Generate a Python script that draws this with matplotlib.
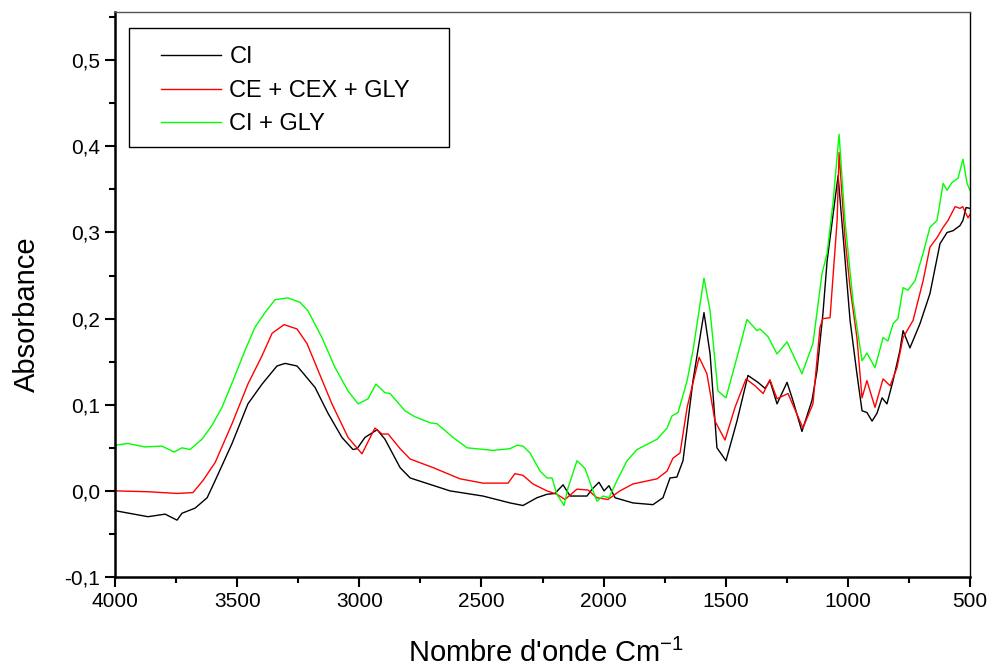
import matplotlib
matplotlib.use("Agg")
import matplotlib.pyplot as plt
from matplotlib.patches import Rectangle
from matplotlib.ticker import MultipleLocator, FuncFormatter

plt.rcParams['font.family'] = ['Liberation Sans', 'DejaVu Sans']

# wavenumber (cm-1) / absorbance
ci_wn = [4000, 3865, 3795, 3746, 3726, 3672, 3623, 3590, 3521, 3456, 3398, 3337, 3304,
         3255, 3222, 3181, 3128, 3071, 3026, 3009, 2977, 2927, 2895, 2833, 2792, 2629,
         2494, 2383, 2330, 2273, 2232, 2199, 2166, 2137, 2068, 2047, 2019, 1998, 1978,
         1953, 1880, 1798, 1757, 1728, 1700, 1675, 1658, 1634, 1589, 1564, 1536, 1499,
         1454, 1409, 1368, 1339, 1319, 1290, 1249, 1225, 1188, 1147, 1126, 1102, 1085,
         1040, 991, 963, 942, 922, 901, 881, 860, 840, 815, 787, 774, 746, 705, 664, 623,
         594, 570, 541, 529, 516, 500]
ci_abs = [-0.023, -0.030, -0.027, -0.034, -0.026, -0.020, -0.008, 0.012, 0.055, 0.101,
          0.124, 0.145, 0.148, 0.145, 0.134, 0.120, 0.090, 0.062, 0.048, 0.049, 0.062,
          0.071, 0.060, 0.027, 0.015, 0.000, -0.006, -0.014, -0.017, -0.008, -0.004,
          -0.003, 0.007, -0.006, -0.006, 0.002, 0.010, 0.000, 0.006, -0.008, -0.014,
          -0.016, -0.008, 0.015, 0.016, 0.035, 0.073, 0.128, 0.207, 0.159, 0.050, 0.035,
          0.081, 0.134, 0.126, 0.119, 0.128, 0.101, 0.126, 0.105, 0.069, 0.105, 0.140,
          0.206, 0.267, 0.366, 0.198, 0.136, 0.093, 0.091, 0.081, 0.090, 0.108, 0.101,
          0.128, 0.163, 0.186, 0.166, 0.194, 0.229, 0.287, 0.300, 0.302, 0.308, 0.314,
          0.329, 0.328]

ce_wn = [4000, 3865, 3746, 3681, 3640, 3590, 3521, 3456, 3398, 3357, 3308, 3255, 3214,
         3169, 3112, 3046, 2989, 2936, 2907, 2882, 2833, 2792, 2698, 2588, 2494, 2391,
         2363, 2330, 2289, 2232, 2191, 2158, 2109, 2064, 2027, 1982, 1933, 1880, 1781,
         1740, 1716, 1687, 1658, 1609, 1577, 1544, 1503, 1462, 1417, 1380, 1347, 1319,
         1290, 1245, 1184, 1143, 1114, 1102, 1073, 1044, 1036, 1012, 991, 963, 942, 922,
         889, 856, 827, 799, 774, 733, 692, 664, 635, 610, 590, 561, 541, 530, 508, 500]
ce_abs = [0.000, -0.001, -0.003, -0.002, 0.012, 0.033, 0.078, 0.124, 0.157, 0.183,
          0.193, 0.188, 0.171, 0.140, 0.101, 0.062, 0.043, 0.073, 0.066, 0.066, 0.049,
          0.037, 0.027, 0.014, 0.009, 0.009, 0.020, 0.018, 0.008, 0.000, -0.004, -0.010,
          0.002, 0.001, -0.008, -0.010, 0.000, 0.008, 0.014, 0.023, 0.038, 0.044, 0.097,
          0.155, 0.136, 0.081, 0.059, 0.097, 0.130, 0.122, 0.113, 0.129, 0.107, 0.113,
          0.073, 0.101, 0.190, 0.200, 0.201, 0.314, 0.393, 0.294, 0.236, 0.178, 0.108,
          0.128, 0.097, 0.130, 0.122, 0.143, 0.178, 0.198, 0.244, 0.283, 0.294, 0.306,
          0.314, 0.330, 0.328, 0.330, 0.317, 0.321]

gly_wn = [4000, 3947, 3877, 3808, 3758, 3726, 3693, 3644, 3603, 3562, 3517, 3468, 3427,
          3386, 3345, 3292, 3243, 3210, 3153, 3099, 3046, 3005, 2964, 2932, 2895, 2874,
          2813, 2772, 2710, 2682, 2616, 2559, 2453, 2383, 2354, 2330, 2301, 2260, 2232,
          2211, 2191, 2162, 2146, 2109, 2076, 2047, 2027, 2002, 1978, 1945, 1904, 1863,
          1781, 1740, 1720, 1695, 1658, 1634, 1589, 1564, 1532, 1499, 1454, 1413, 1372,
          1360, 1327, 1290, 1249, 1188, 1143, 1106, 1085, 1061, 1036, 1012, 979, 942,
          922, 889, 856, 836, 815, 795, 774, 754, 725, 692, 664, 635, 610, 594, 574, 549,
          529, 512, 500]
gly_abs = [0.053, 0.055, 0.051, 0.052, 0.045, 0.050, 0.048, 0.060, 0.076, 0.097, 0.128,
           0.163, 0.190, 0.207, 0.222, 0.224, 0.219, 0.209, 0.178, 0.143, 0.116, 0.101,
           0.107, 0.124, 0.114, 0.113, 0.093, 0.086, 0.079, 0.078, 0.062, 0.050, 0.047,
           0.049, 0.053, 0.052, 0.044, 0.023, 0.015, 0.015, -0.004, -0.017, 0.003, 0.035,
           0.026, 0.003, -0.012, -0.006, -0.008, 0.012, 0.035, 0.048, 0.060, 0.073, 0.087,
           0.091, 0.128, 0.163, 0.247, 0.209, 0.116, 0.108, 0.155, 0.199, 0.186, 0.188,
           0.179, 0.159, 0.173, 0.136, 0.171, 0.252, 0.276, 0.334, 0.414, 0.314, 0.221,
           0.151, 0.160, 0.143, 0.178, 0.174, 0.194, 0.200, 0.236, 0.233, 0.244, 0.276,
           0.306, 0.314, 0.357, 0.349, 0.358, 0.363, 0.385, 0.357, 0.349]

fig = plt.figure(figsize=(9.89, 6.71), dpi=100)
ax = fig.add_axes([0.1163, 0.1401, 0.8645, 0.842])

ax.plot(ci_wn, ci_abs, color='black', lw=1.0, label='CI')
ax.plot(ce_wn, ce_abs, color='red', lw=1.0, label='CE + CEX + GLY')
ax.plot(gly_wn, gly_abs, color='#00ff00', lw=1.0, label='CI + GLY')

ax.set_xlim(4000, 500)
ax.set_ylim(-0.1, 0.556)

ax.xaxis.set_major_locator(MultipleLocator(500))
ax.xaxis.set_minor_locator(MultipleLocator(250))
ax.yaxis.set_major_locator(MultipleLocator(0.1))
ax.yaxis.set_minor_locator(MultipleLocator(0.05))
ax.yaxis.set_major_formatter(FuncFormatter(lambda v, p: ('%.1f' % v).replace('.', ',')))

ax.tick_params(which='major', direction='out', length=7, width=1.5, labelsize=15)
ax.tick_params(which='minor', direction='out', length=4, width=1.5)
ax.tick_params(top=False, right=False, which='both')

for s in ['left', 'bottom']:
    ax.spines[s].set_linewidth(1.8)
ax.spines['top'].set_linewidth(1.0)
ax.spines['top'].set_color('#555555')
ax.spines['right'].set_linewidth(1.0)

# axis titles
fig.text(0.552, 0.013, "Nombre d'onde Cm$^{\\mathregular{-1}}$", fontsize=21,
         ha='center', va='baseline')
ax.set_ylabel('Absorbance', fontsize=21)
ax.yaxis.set_label_coords(-0.087, 0.465)

# legend with a separate box (wider side padding than top/bottom)
leg = ax.legend(loc='upper left', bbox_to_anchor=(0.0538, 0.939), fontsize=17,
                frameon=False, handlelength=2.55, handletextpad=0.35,
                borderpad=0, labelspacing=0.48, borderaxespad=0)
ax.add_patch(Rectangle((0.0164, 0.761), 0.3742, 0.2107, transform=ax.transAxes,
                       fill=False, edgecolor='black', lw=1.0, zorder=5))

fig.savefig('out.png', dpi=100)
